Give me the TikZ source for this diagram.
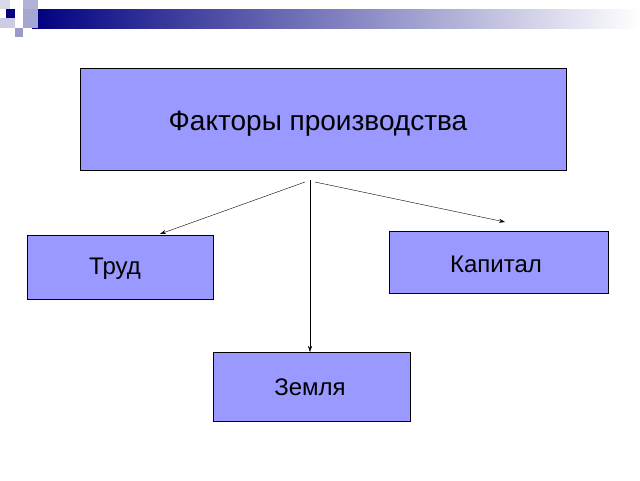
\documentclass[tikz,border=0pt]{standalone}
\usepackage{fontspec}
\setmainfont{Liberation Sans}
\usetikzlibrary{arrows.meta}
\definecolor{boxblue}{HTML}{9999FF}
\definecolor{navy}{HTML}{000080}
\tikzset{factor/.style={draw, fill=boxblue, anchor=north west, inner sep=0pt},
  link/.style={-{Stealth[length=6pt,width=4pt]}, thin}}
\begin{document}
\begin{tikzpicture}[x=1pt, y=-1pt]
\useasboundingbox (0,0) rectangle (640,480);
% Header
    \shade[left color=navy, right color=white] (32,9) rectangle (640,28);
    \fill[navy!15] (0,0) rectangle (10,9);
    \fill[navy!30] (23,0) rectangle (38,9);
    \fill[navy!20] (0,18) rectangle (15,28);
    \fill[navy!35] (23,9) rectangle (38,28);
    \fill[navy!40] (15,28) rectangle (23,37);
    \fill[navy] (6,9) rectangle (15,18);
% Boxes
    \node[factor, minimum width=486pt, minimum height=102pt] (main) at (80,68) {};
    \node at (318,124) {\fontsize{28}{32}\selectfont Факторы производства};
    \node[factor, minimum width=186pt, minimum height=64pt] (labor) at (27,235) {};
    \node at (115,269) {\fontsize{24}{28}\selectfont Труд};
    \node[factor, minimum width=219pt, minimum height=62pt] (capital) at (389,231) {};
    \node at (496,264) {\fontsize{24}{28}\selectfont Капитал};
    \node[factor, minimum width=197pt, minimum height=69pt] (land) at (213,352) {};
    \node at (310,387) {\fontsize{24}{28}\selectfont Земля};
% Arrows
    \coordinate (fromL) at (305,182);
    \coordinate (fromM) at (310,180);
    \coordinate (fromR) at (315,182);
    \coordinate (toL) at (160,234);
    \coordinate (toR) at (505,222);
    \draw[link] (fromL) -- (toL);
    \draw[link] (fromM) -- (land.north -| fromM);
    \draw[link] (fromR) -- (toR);
\end{tikzpicture}
\end{document}
